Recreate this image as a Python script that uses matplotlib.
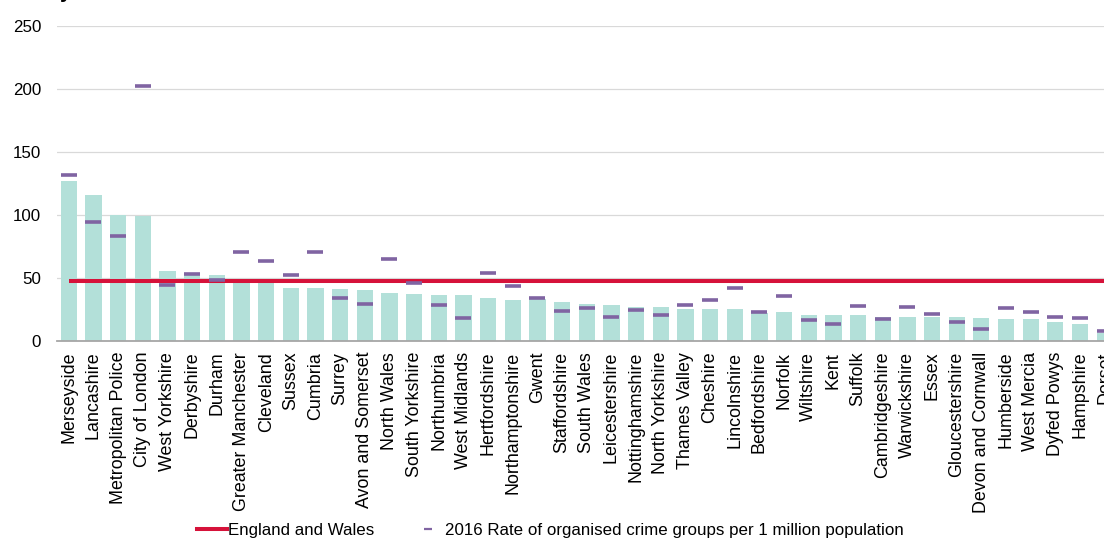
import matplotlib
matplotlib.use("Agg")
import matplotlib.pyplot as plt
from matplotlib.lines import Line2D

plt.rcParams['font.family'] = ['Liberation Sans', 'DejaVu Sans']

forces = ["Merseyside", "Lancashire", "Metropolitan Police", "City of London", "West Yorkshire",
          "Derbyshire", "Durham", "Greater Manchester", "Cleveland", "Sussex", "Cumbria", "Surrey",
          "Avon and Somerset", "North Wales", "South Yorkshire", "Northumbria", "West Midlands",
          "Hertfordshire", "Northamptonshire", "Gwent", "Staffordshire", "South Wales",
          "Leicestershire", "Nottinghamshire", "North Yorkshire", "Thames Valley", "Cheshire",
          "Lincolnshire", "Bedfordshire", "Norfolk", "Wiltshire", "Kent", "Suffolk",
          "Cambridgeshire", "Warwickshire", "Essex", "Gloucestershire", "Devon and Cornwall",
          "Humberside", "West Mercia", "Dyfed Powys", "Hampshire", "Dorset"]

rate_current = [127, 116, 100, 99, 55, 53.5, 52.5, 47, 46.5, 42, 42, 41, 40, 38, 37, 36, 36,
                33.5, 32.5, 33, 31, 29.5, 28.5, 27, 26.5, 25.5, 25.5, 25.5, 22, 22.5, 20.5, 20,
                20, 19, 19, 19, 18.5, 18, 17.5, 17.5, 14.5, 13, 6]

rate_2016 = [131.5, 94.5, 83, 202, 44.5, 53, 48, 70, 63.5, 52.5, 70, 34, 29.5, 65, 46, 28, 18,
             54, 43.5, 34, 23.5, 26, 19, 24.5, 20.5, 28.5, 32.5, 42, 22.5, 35.5, 16.5, 13.5,
             27.5, 17, 26.5, 21, 14.5, 9, 26, 22.5, 19, 18, 8]

england_wales = 47.2

yticks = [0, 50, 100, 150, 200, 250]

W, H = 1104, 543
fig = plt.figure(figsize=(W / 100, H / 100), dpi=100)
ax = fig.add_axes([56.5 / W, 1 - 340.7 / H, (1117 - 56.5) / W, (340.7 - 25.7) / H])

x = list(range(len(forces)))
ax.bar(x, rate_current, width=0.66, color='#B3E0D9', zorder=2)
ax.plot([x[0], x[-1]], [england_wales, england_wales], color='#D6123A', lw=2.9,
        solid_capstyle='butt', zorder=3)
ax.plot(x, rate_2016, linestyle='none', marker='_', markersize=11.5, mew=2.6,
        color='#8064A2', zorder=4)

ax.set_xlim(-0.5, len(forces) - 0.5)
ax.set_ylim(0, 250)
ax.set_yticks(yticks)
ax.set_yticklabels([str(v) for v in yticks])
ax.set_xticks(x)
ax.set_xticklabels(forces, rotation=90, va='top', ha='center')
ax.tick_params(axis='y', length=0, labelsize=12.2, colors='black', pad=11)
ax.tick_params(axis='x', length=0, labelsize=12.9, colors='black', pad=8)
ax.grid(axis='y', color='#D9D9D9', lw=0.9, zorder=0)
ax.set_axisbelow(True)
for s in ['top', 'right', 'left']:
    ax.spines[s].set_visible(False)
ax.spines['bottom'].set_color('#A6A6A6')
ax.spines['bottom'].set_linewidth(1.3)
ax.spines['bottom'].set_zorder(5)

handles = [Line2D([0], [0], color='#D6123A', lw=2.9),
           Line2D([0], [0], linestyle='none', marker='_', markersize=6, mew=1.6, color='#8064A2')]
labels = ["England and Wales", "2016 Rate of organised crime groups per 1 million population"]
fig.legend(handles, labels, loc='center left', bbox_to_anchor=(197 / W, 13 / H), ncol=2,
           frameon=False, fontsize=12.2, handlelength=1.75, handletextpad=0.1,
           columnspacing=2.3, borderaxespad=0, borderpad=0)

fig.text(60 / W, 1 + 1.5 / H, "y", fontsize=15, fontweight='bold', va='baseline', ha='left')

fig.savefig("out.png", dpi=100)
